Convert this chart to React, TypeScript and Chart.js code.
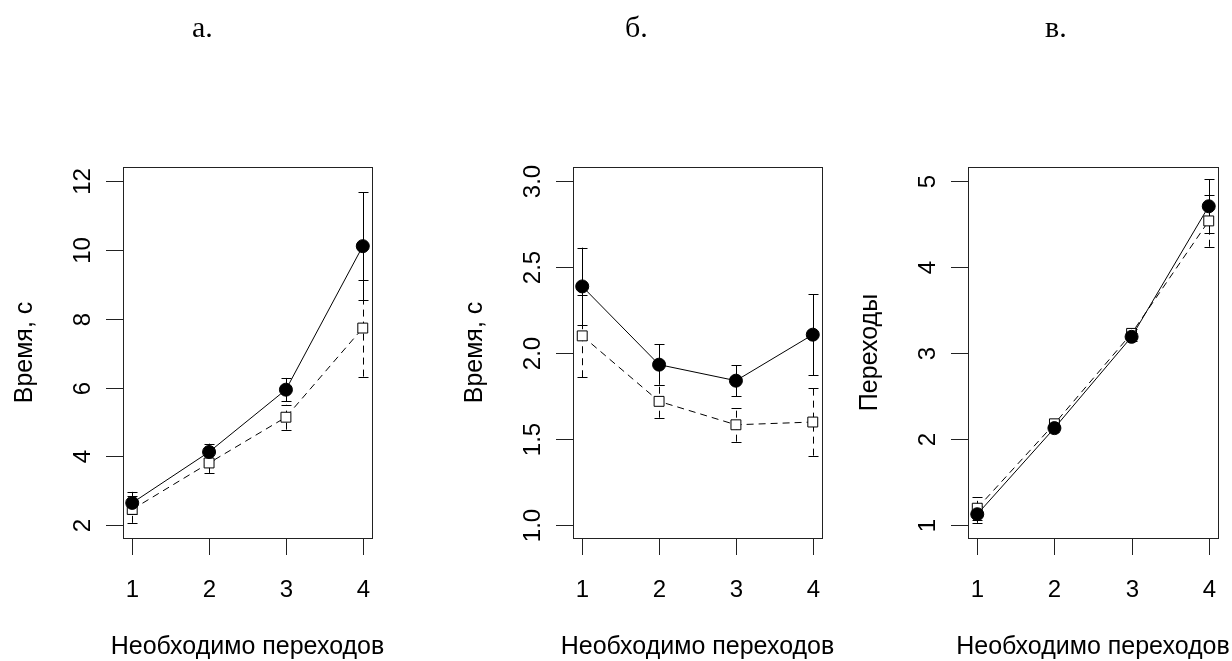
import React, { useEffect, useRef } from "react";
import { Chart, registerables } from "chart.js";
Chart.register(...registerables);

// ---- data ----
const categories = [1, 2, 3, 4];
const xTickLabels = ["1", "2", "3", "4"];
const panelTitles = ["а.", "б.", "в."];
const xAxisTitle = "Необходимо переходов";
const yAxisTitles = ["Время, с", "Время, с", "Переходы"];

// panel а.
const timeA_solid = [2.65, 4.13, 5.94, 10.11];
const timeA_solidErr = [0.32, 0.24, 0.34, 1.56];
const timeA_dashed = [2.46, 3.81, 5.14, 7.73];
const timeA_dashedErr = [0.39, 0.29, 0.36, 1.41];
const timeA_yTicks = [2, 4, 6, 8, 10, 12];
const timeA_yTickLabels = ["2", "4", "6", "8", "10", "12"];

// panel б.
const timeB_solid = [2.387, 1.933, 1.84, 2.107];
const timeB_solidErr = [0.225, 0.117, 0.09, 0.235];
const timeB_dashed = [2.1, 1.72, 1.584, 1.6];
const timeB_dashedErr = [0.24, 0.095, 0.098, 0.195];
const timeB_yTicks = [1.0, 1.5, 2.0, 2.5, 3.0];
const timeB_yTickLabels = ["1.0", "1.5", "2.0", "2.5", "3.0"];

// panel в.
const trans_solid = [1.13, 2.13, 3.19, 4.706];
const trans_solidErr = [0.1, 0.04, 0.05, 0.315];
const trans_dashed = [1.2, 2.18, 3.23, 4.536];
const trans_dashedErr = [0.135, 0.04, 0.05, 0.3];
const trans_yTicks = [1, 2, 3, 4, 5];
const trans_yTickLabels = ["1", "2", "3", "4", "5"];

// ---- layout / style ----
const W = 1232;
const H = 661;
const SANS = '"Liberation Sans", Arial, sans-serif';
const SERIF = '"Liberation Serif", "Times New Roman", serif';
const DASH = [7, 5];

type Panel = {
  canvasLeft: number;
  canvasWidth: number;
  boxLeft: number;
  boxRight: number;
  boxTop: number;
  boxBottom: number;
  yMin: number;
  yMax: number;
  solid: number[];
  solidErr: number[];
  dashed: number[];
  dashedErr: number[];
  yTicks: number[];
  yTickLabels: string[];
  yTitle: string;
  title: string;
  titleX: number;
};

const panels: Panel[] = [
  {
    canvasLeft: 0, canvasWidth: 420, boxLeft: 123, boxRight: 372, boxTop: 167, boxBottom: 538,
    yMin: 1.63, yMax: 12.41,
    solid: timeA_solid, solidErr: timeA_solidErr, dashed: timeA_dashed, dashedErr: timeA_dashedErr,
    yTicks: timeA_yTicks, yTickLabels: timeA_yTickLabels, yTitle: yAxisTitles[0],
    title: panelTitles[0], titleX: 192,
  },
  {
    canvasLeft: 420, canvasWidth: 420, boxLeft: 573, boxRight: 822, boxTop: 167, boxBottom: 538,
    yMin: 0.927, yMax: 3.08,
    solid: timeB_solid, solidErr: timeB_solidErr, dashed: timeB_dashed, dashedErr: timeB_dashedErr,
    yTicks: timeB_yTicks, yTickLabels: timeB_yTickLabels, yTitle: yAxisTitles[1],
    title: panelTitles[1], titleX: 625,
  },
  {
    canvasLeft: 840, canvasWidth: 392, boxLeft: 968, boxRight: 1218, boxTop: 167, boxBottom: 538,
    yMin: 0.854, yMax: 5.162,
    solid: trans_solid, solidErr: trans_solidErr, dashed: trans_dashed, dashedErr: trans_dashedErr,
    yTicks: trans_yTicks, yTickLabels: trans_yTickLabels, yTitle: yAxisTitles[2],
    title: panelTitles[2], titleX: 1045,
  },
];

function makePlugin(p: Panel) {
  const errs = [p.solidErr, p.dashedErr];
  return {
    id: "rdecor",
    beforeDatasetsDraw(chart: any) {
      const ctx = chart.ctx;
      const xs = chart.scales.x;
      const ys = chart.scales.y;
      chart.data.datasets.forEach((ds: any, di: number) => {
        const dash = ds.borderDash || [];
        ctx.save();
        ctx.strokeStyle = "#000";
        ctx.lineWidth = 1;
        ds.data.forEach((pt: any, i: number) => {
          const e = errs[di][i];
          const x = Math.round(xs.getPixelForValue(pt.x)) + 0.5;
          const yLo = ys.getPixelForValue(pt.y - e);
          const yHi = ys.getPixelForValue(pt.y + e);
          ctx.setLineDash(dash);
          ctx.beginPath();
          ctx.moveTo(x, yLo);
          ctx.lineTo(x, yHi);
          ctx.stroke();
          ctx.setLineDash([]);
          ctx.beginPath();
          const a = Math.round(yLo) + 0.5;
          const b = Math.round(yHi) + 0.5;
          ctx.moveTo(x - 5, a);
          ctx.lineTo(x + 5, a);
          ctx.moveTo(x - 5, b);
          ctx.lineTo(x + 5, b);
          ctx.stroke();
        });
        ctx.restore();
      });
    },
    afterDraw(chart: any) {
      const ctx = chart.ctx;
      const xs = chart.scales.x;
      const ys = chart.scales.y;
      const ca = chart.chartArea;
      ctx.save();
      ctx.strokeStyle = "#222";
      ctx.fillStyle = "#000";
      ctx.lineWidth = 1;
      ctx.setLineDash([]);
      // box
      ctx.strokeRect(ca.left + 0.5, ca.top + 0.5, ca.right - ca.left, ca.bottom - ca.top);
      // x ticks
      ctx.font = `24px ${SANS}`;
      ctx.textAlign = "center";
      ctx.textBaseline = "alphabetic";
      categories.forEach((c, i) => {
        const x = Math.round(xs.getPixelForValue(c)) + 0.5;
        ctx.beginPath();
        ctx.moveTo(x, ca.bottom);
        ctx.lineTo(x, ca.bottom + 17);
        ctx.stroke();
        ctx.fillText(xTickLabels[i], x, 597);
      });
      // y ticks
      p.yTicks.forEach((v, i) => {
        const y = Math.round(ys.getPixelForValue(v)) + 0.5;
        ctx.beginPath();
        ctx.moveTo(ca.left, y);
        ctx.lineTo(ca.left - 17, y);
        ctx.stroke();
        ctx.save();
        ctx.translate(ca.left - 33, y);
        ctx.rotate(-Math.PI / 2);
        ctx.fillText(p.yTickLabels[i], 0, 0);
        ctx.restore();
      });
      // x title
      ctx.font = `25px ${SANS}`;
      ctx.fillText(xAxisTitle, (ca.left + ca.right) / 2, 654);
      // y title
      ctx.save();
      ctx.translate(ca.left - 91, (ca.top + ca.bottom) / 2);
      ctx.rotate(-Math.PI / 2);
      ctx.fillText(p.yTitle, 0, 0);
      ctx.restore();
      // panel title
      ctx.font = `30px ${SERIF}`;
      ctx.textAlign = "left";
      ctx.fillText(p.title, p.titleX - p.canvasLeft, 37);
      ctx.restore();
    },
  };
}

function PanelChart({ p }: { p: Panel }) {
  const ref = useRef<HTMLCanvasElement | null>(null);
  useEffect(() => {
    if (!ref.current) return;
    const chart = new Chart(ref.current, {
      type: "line",
      data: {
        datasets: [
          {
            label: "solid",
            data: categories.map((c, i) => ({ x: c, y: p.solid[i] })),
            borderColor: "#000",
            borderWidth: 1,
            pointStyle: "circle",
            pointRadius: 6.5,
            pointBackgroundColor: "#000",
            pointBorderColor: "#000",
            pointBorderWidth: 1,
            tension: 0,
            fill: false,
          },
          {
            label: "dashed",
            data: categories.map((c, i) => ({ x: c, y: p.dashed[i] })),
            borderColor: "#000",
            borderWidth: 1,
            borderDash: DASH,
            pointStyle: "rect",
            pointRadius: 7,
            pointBackgroundColor: "#fff",
            pointBorderColor: "#000",
            pointBorderWidth: 1,
            tension: 0,
            fill: false,
          },
        ],
      },
      options: {
        animation: false,
        responsive: false,
        events: [],
        layout: {
          padding: {
            left: p.boxLeft - p.canvasLeft,
            right: p.canvasLeft + p.canvasWidth - p.boxRight,
            top: p.boxTop,
            bottom: H - p.boxBottom,
          },
        },
        plugins: { legend: { display: false }, tooltip: { enabled: false } },
        scales: {
          x: { type: "linear", min: 0.88, max: 4.12, display: false },
          y: { type: "linear", min: p.yMin, max: p.yMax, display: false },
        },
      },
      plugins: [makePlugin(p)],
    } as any);
    return () => chart.destroy();
  }, [p]);
  return (
    <canvas
      ref={ref}
      width={p.canvasWidth}
      height={H}
      style={{ position: "absolute", left: p.canvasLeft, top: 0, width: p.canvasWidth, height: H }}
    />
  );
}

export default function App() {
  return (
    <div style={{ position: "fixed", left: 0, top: 0, width: W, height: H, background: "#fff", overflow: "hidden" }}>
      {panels.map((p, i) => (
        <PanelChart key={i} p={p} />
      ))}
    </div>
  );
}
